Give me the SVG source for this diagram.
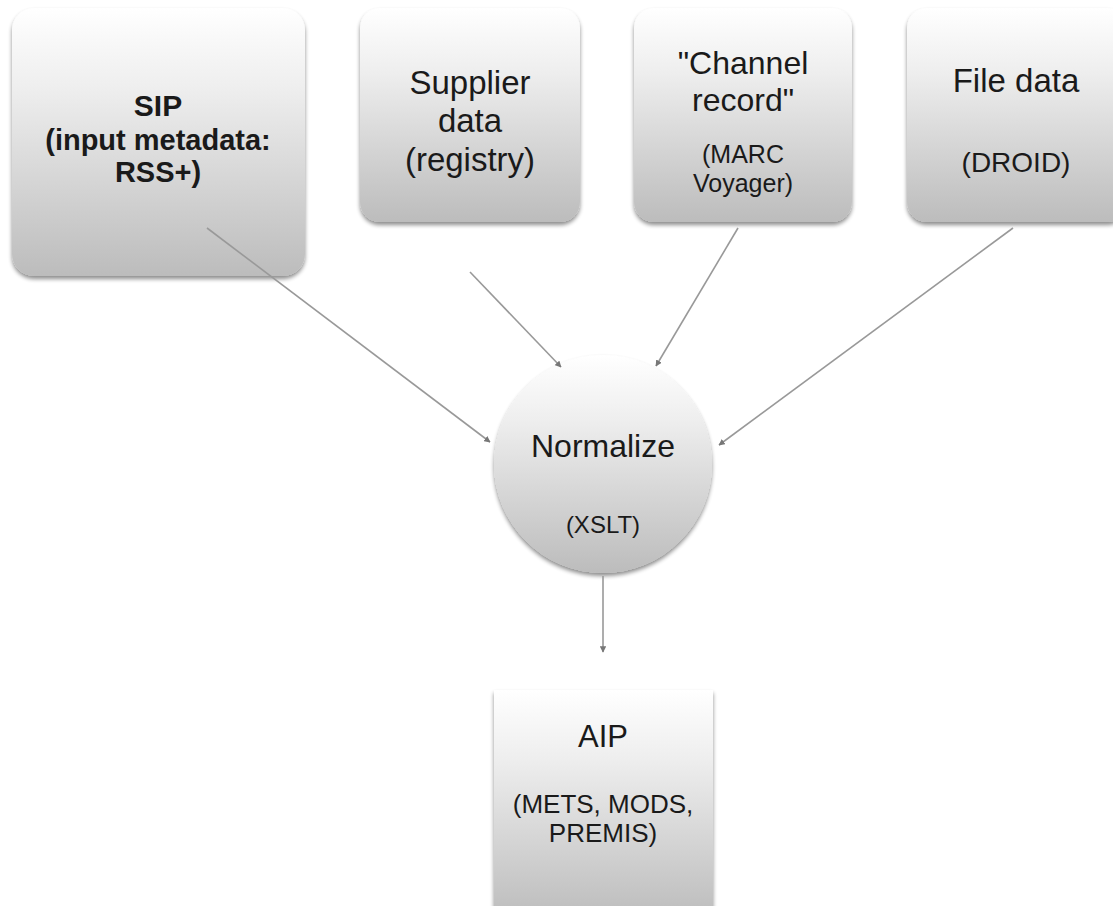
<svg xmlns="http://www.w3.org/2000/svg" width="1113" height="906" viewBox="0 0 1113 906">
<defs>
<linearGradient id="g" x1="0" y1="0" x2="0" y2="1">
<stop offset="0" stop-color="#ffffff"/>
<stop offset="0.3" stop-color="#eeeeee"/>
<stop offset="1" stop-color="#bcbcbc"/>
</linearGradient>
<filter id="sh" x="-10%" y="-10%" width="120%" height="125%">
<feGaussianBlur in="SourceAlpha" stdDeviation="2"/>
<feOffset dx="0" dy="3"/>
<feComponentTransfer><feFuncA type="linear" slope="0.45"/></feComponentTransfer>
<feMerge><feMergeNode/><feMergeNode in="SourceGraphic"/></feMerge>
</filter>
<marker id="ah" viewBox="0 0 10 10" refX="9" refY="5" markerWidth="4" markerHeight="4" orient="auto">
<path d="M0,0 L10,5 L0,10 z" fill="#777"/>
</marker>
</defs>
<style>
.box{fill:url(#g);filter:url(#sh)}
text{font-family:"Liberation Sans",Arial,sans-serif;fill:#1a1a1a;text-anchor:middle}
.b{font-weight:bold}
.c{stroke:#999999;stroke-width:1.6;fill:none;marker-end:url(#ah)}
</style>
<rect width="1113" height="906" fill="#ffffff"/>
<g id="sip">
<rect class="box" x="12" y="8" width="293" height="268" rx="22"/>
<text class="b" x="158" y="116" font-size="30">SIP</text>
<text class="b" x="158" y="150" font-size="29">(input metadata:</text>
<text class="b" x="158" y="182" font-size="29">RSS+)</text>
</g>
<g id="supplier">
<rect class="box" x="360" y="8" width="220" height="214" rx="20"/>
<text x="470" y="94" font-size="33">Supplier</text>
<text x="470" y="132" font-size="33">data</text>
<text x="470" y="171" font-size="33">(registry)</text>
</g>
<g id="channel">
<rect class="box" x="634" y="8" width="218" height="214" rx="20"/>
<text x="743" y="74" font-size="32">"Channel</text>
<text x="743" y="111" font-size="32">record"</text>
<text x="743" y="163" font-size="25">(MARC</text>
<text x="743" y="192" font-size="25">Voyager)</text>
</g>
<g id="file">
<rect class="box" x="907" y="8" width="220" height="214" rx="20"/>
<text x="1016" y="92" font-size="33">File data</text>
<text x="1016" y="172" font-size="28">(DROID)</text>
</g>
<g id="normalize">
<circle class="box" cx="603" cy="464" r="109"/>
<text x="603" y="457" font-size="32">Normalize</text>
<text x="603" y="533" font-size="24">(XSLT)</text>
</g>
<g id="aip">
<rect class="box" x="494" y="690" width="219" height="230"/>
<text x="603" y="747" font-size="31">AIP</text>
<text x="603" y="813" font-size="26">(METS, MODS,</text>
<text x="603" y="842" font-size="26">PREMIS)</text>
</g>
<g id="connectors">
<line class="c" x1="207" y1="228" x2="490" y2="442"/>
<line class="c" x1="470" y1="272" x2="561" y2="367"/>
<line class="c" x1="738" y1="228" x2="656" y2="366"/>
<line class="c" x1="1013" y1="228" x2="719" y2="445"/>
<line class="c" x1="603" y1="576" x2="603" y2="652"/>
</g>
</svg>
